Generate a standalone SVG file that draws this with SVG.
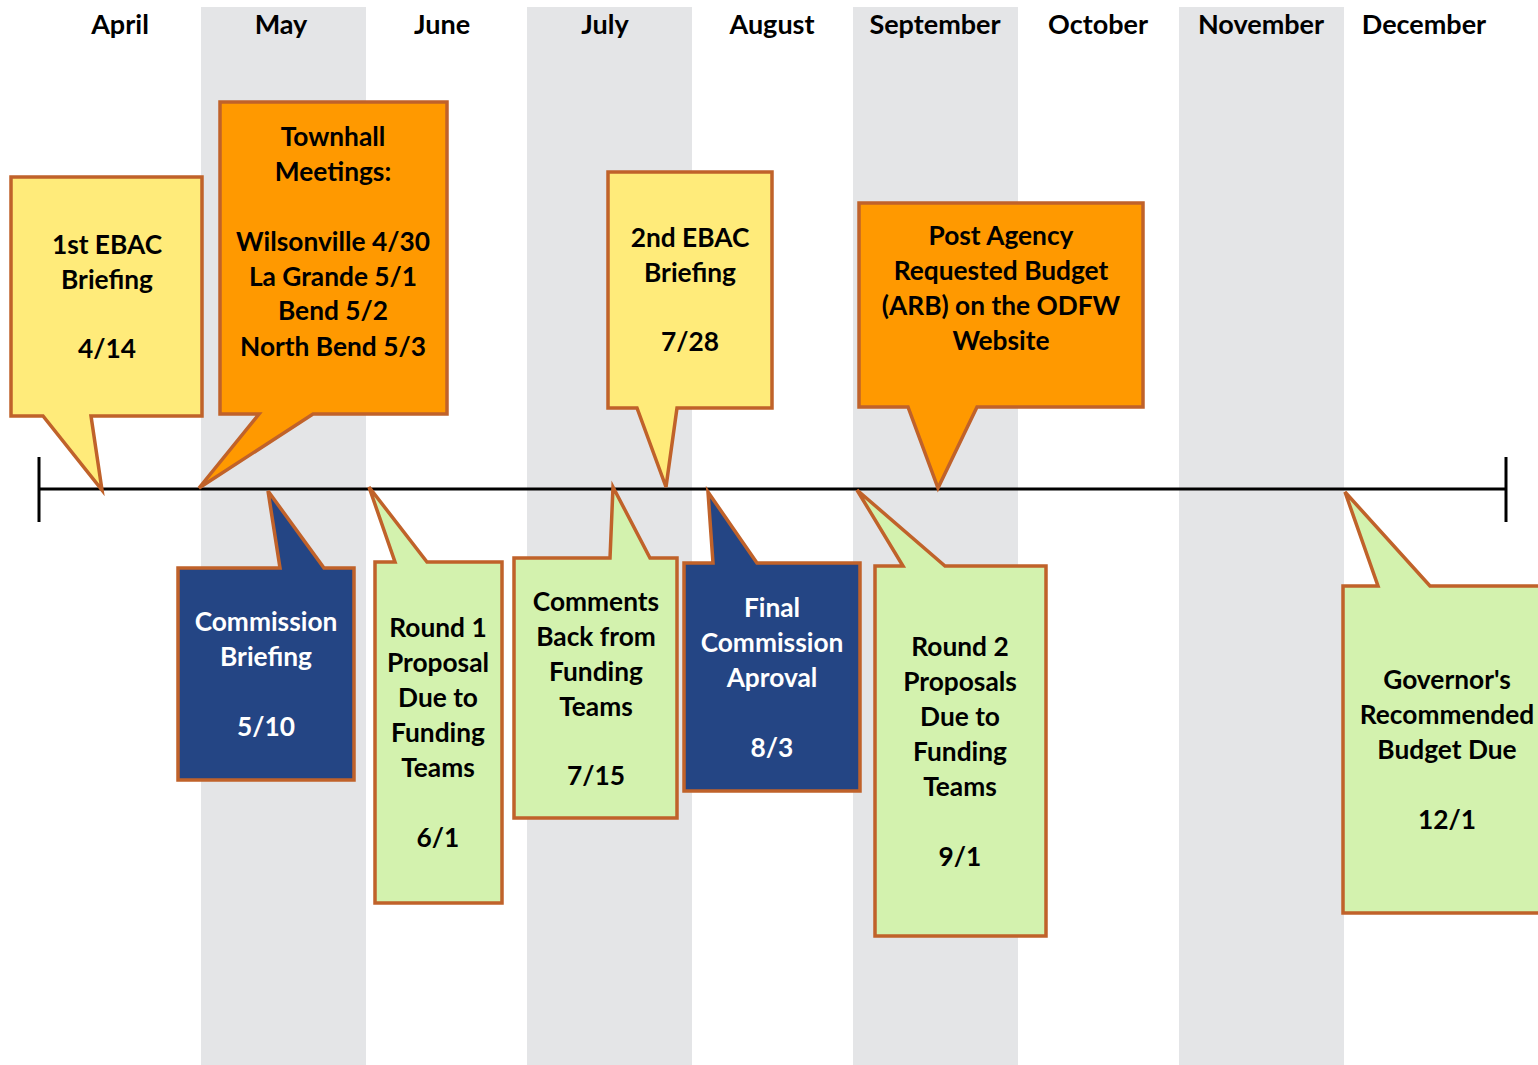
<svg xmlns="http://www.w3.org/2000/svg" width="1538" height="1065" viewBox="0 0 1538 1065">
<style>
.band{fill:#E4E5E7}
.month{font-family:Lato,"Liberation Sans",sans-serif;font-weight:bold;font-size:27px;fill:#000;text-anchor:middle}
.co{stroke:#C0622A;stroke-width:3.5;stroke-linejoin:miter}
.yel{fill:#FFEB7A}
.org{fill:#FF9900}
.grn{fill:#D3F2AE}
.blu{fill:#244584}
.t{font-family:Lato,"Liberation Sans",sans-serif;font-weight:bold;font-size:26.3px;fill:#000;text-anchor:middle}
.w{fill:#fff}
.axis{stroke:#000;stroke-width:3;fill:none}
</style>
<rect width="1538" height="1065" fill="#fff"/>
<g id="bands">
<rect class="band" x="201" y="7" width="165" height="1058"/>
<rect class="band" x="527" y="7" width="165" height="1058"/>
<rect class="band" x="853" y="7" width="165" height="1058"/>
<rect class="band" x="1179" y="7" width="165" height="1058"/>
</g>
<g id="months">
<text class="month" x="120" y="34">April</text>
<text class="month" x="281" y="34">May</text>
<text class="month" x="442" y="34">June</text>
<text class="month" x="605" y="34">July</text>
<text class="month" x="772" y="34">August</text>
<text class="month" x="935" y="34">September</text>
<text class="month" x="1098" y="34">October</text>
<text class="month" x="1261" y="34">November</text>
<text class="month" x="1424" y="34">December</text>
</g>
<g id="connectors">
<line class="axis" x1="39" y1="489" x2="1506" y2="489"/>
<line class="axis" x1="39" y1="457" x2="39" y2="522"/>
<line class="axis" x1="1506" y1="457" x2="1506" y2="522"/>
</g>
<g id="ebac1">
<path class="co yel" d="M11,177 H202 V416 H91 L102,490 L43,416 H11 Z"/>
<text class="t" x="107"><tspan x="107" y="254">1st EBAC</tspan><tspan x="107" y="289">Briefing</tspan><tspan x="107" y="358">4/14</tspan></text>
</g>
<g id="townhall">
<path class="co org" d="M220,102 H447 V414 H313 L199,488 L259,414 H220 Z"/>
<text class="t" x="333"><tspan x="333" y="146">Townhall</tspan><tspan x="333" y="181">Meetings:</tspan><tspan x="333" y="251">Wilsonville 4/30</tspan><tspan x="333" y="286">La Grande 5/1</tspan><tspan x="333" y="320">Bend 5/2</tspan><tspan x="333" y="356">North Bend 5/3</tspan></text>
</g>
<g id="ebac2">
<path class="co yel" d="M608,172 H772 V408 H677 L666,487 L637,408 H608 Z"/>
<text class="t" x="690"><tspan x="690" y="247">2nd EBAC</tspan><tspan x="690" y="282">Briefing</tspan><tspan x="690" y="351">7/28</tspan></text>
</g>
<g id="arb">
<path class="co org" d="M859,203 H1143 V407 H977 L938,488 L908,407 H859 Z"/>
<text class="t" x="1001"><tspan x="1001" y="245">Post Agency</tspan><tspan x="1001" y="280">Requested Budget</tspan><tspan x="1001" y="315">(ARB) on the ODFW</tspan><tspan x="1001" y="350">Website</tspan></text>
</g>
<g id="commission">
<path class="co blu" d="M178,568 H280 L268,491 L324,568 H354 V780 H178 Z"/>
<text class="t w" x="266"><tspan x="266" y="631">Commission</tspan><tspan x="266" y="666">Briefing</tspan><tspan x="266" y="736">5/10</tspan></text>
</g>
<g id="round1">
<path class="co grn" d="M375,562 H395 L369,487 L427,562 H502 V903 H375 Z"/>
<text class="t" x="438"><tspan x="438" y="637">Round 1</tspan><tspan x="438" y="672">Proposal</tspan><tspan x="438" y="707">Due to</tspan><tspan x="438" y="742">Funding</tspan><tspan x="438" y="777">Teams</tspan><tspan x="438" y="847">6/1</tspan></text>
</g>
<g id="comments">
<path class="co grn" d="M514,558 H610 L613,487 L650,558 H677 V818 H514 Z"/>
<text class="t" x="596"><tspan x="596" y="611">Comments</tspan><tspan x="596" y="646">Back from</tspan><tspan x="596" y="681">Funding</tspan><tspan x="596" y="716">Teams</tspan><tspan x="596" y="785">7/15</tspan></text>
</g>
<g id="final">
<path class="co blu" d="M684,563 H713 L708,492 L757,563 H860 V791 H684 Z"/>
<text class="t w" x="772"><tspan x="772" y="617">Final</tspan><tspan x="772" y="652">Commission</tspan><tspan x="772" y="687">Aproval</tspan><tspan x="772" y="757">8/3</tspan></text>
</g>
<g id="round2">
<path class="co grn" d="M875,566 H903 L857,490 L945,566 H1046 V936 H875 Z"/>
<text class="t" x="960"><tspan x="960" y="656">Round 2</tspan><tspan x="960" y="691">Proposals</tspan><tspan x="960" y="726">Due to</tspan><tspan x="960" y="761">Funding</tspan><tspan x="960" y="796">Teams</tspan><tspan x="960" y="866">9/1</tspan></text>
</g>
<g id="governor">
<path class="co grn" d="M1343,586 H1378 L1345,492 L1430,586 H1560 V913 H1343 Z"/>
<text class="t" x="1447"><tspan x="1447" y="689">Governor's</tspan><tspan x="1447" y="724">Recommended</tspan><tspan x="1447" y="759">Budget Due</tspan><tspan x="1447" y="829">12/1</tspan></text>
</g>
</svg>
